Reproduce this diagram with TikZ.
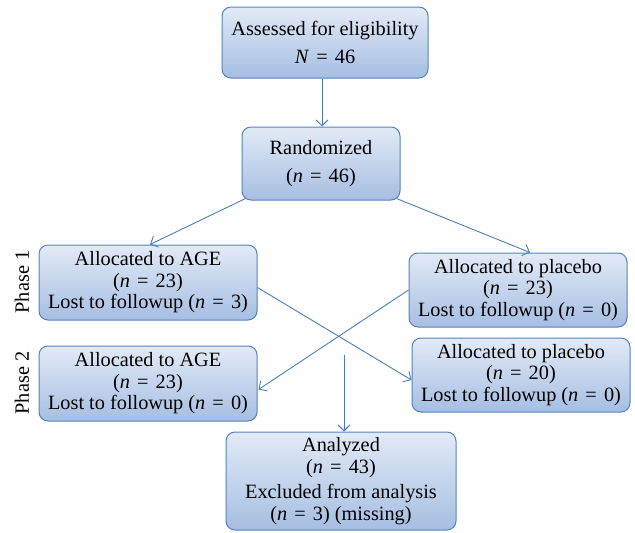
\documentclass[tikz,border=0pt]{standalone}
\usepackage{fontspec}
\setmainfont{Liberation Serif}
\usetikzlibrary{arrows.meta}
\definecolor{boxline}{RGB}{84,130,190}
\definecolor{boxtop}{RGB}{226,234,246}
\definecolor{boxbot}{RGB}{166,190,226}
\definecolor{arrowc}{RGB}{74,126,187}
\newcommand{\eqs}{\hspace{0.35em}=\hspace{0.35em}}
\tikzset{
  box/.style={draw=boxline, line width=1pt, rounded corners=9pt,
    top color=boxtop, bottom color=boxbot, align=center,
    inner sep=0pt, font=\fontsize{20.3}{21.5}\selectfont},
  flow/.style={draw=arrowc, line width=0.9pt, -{Straight Barb[length=6pt,width=12pt]}},
  phase/.style={rotate=90, font=\fontsize{20.3}{21.5}\selectfont}
}
\begin{document}
\begin{tikzpicture}[x=1pt,y=-1pt]
  \useasboundingbox (0,0) rectangle (635,533);
  \node[box, minimum width=206pt, minimum height=71pt] (assess) at (325,42.5)
    {Assessed for eligibility\\[7pt] \textit{N}\eqs 46};
  \node[box, minimum width=158pt, minimum height=73pt] (rand) at (321,163.5)
    {Randomized\\[7pt] (\textit{n}\eqs 46)};
  \node[box, minimum width=218pt, minimum height=75pt] (age1) at (148,282.5)
    {Allocated to AGE\\ (\textit{n}\eqs 23)\\ Lost to followup (\textit{n}\eqs 3)};
  \node[box, minimum width=218pt, minimum height=74pt] (plac1) at (518,290)
    {Allocated to placebo\\ (\textit{n}\eqs 23)\\ Lost to followup (\textit{n}\eqs 0)};
  \node[box, minimum width=218pt, minimum height=75pt] (age2) at (148,383.5)
    {Allocated to AGE\\ (\textit{n}\eqs 23)\\ Lost to followup (\textit{n}\eqs 0)};
  \node[box, minimum width=218pt, minimum height=74pt] (plac2) at (521,375)
    {Allocated to placebo\\ (\textit{n}\eqs 20)\\ Lost to followup (\textit{n}\eqs 0)};
  \node[box, minimum width=230pt, minimum height=98pt] (anal) at (341,481)
    {Analyzed\\ (\textit{n}\eqs 43)\\[4pt] Excluded from analysis\\ (\textit{n}\eqs 3) (missing)};
  \node[phase] (ph1) at (22,282) {Phase 1};
  \node[phase] (ph2) at (22,383) {Phase 2};
  \coordinate (split) at (344,355);
  \draw[flow] ([xshift=-3pt]assess.south) -- ([xshift=1pt]rand.north);
  \draw[flow] ([xshift=4pt,yshift=2pt]rand.south west) -- ([xshift=2pt]age1.north);
  \draw[flow] ([xshift=-4pt,yshift=2pt]rand.south east) -- ([xshift=12pt]plac1.north);
  \draw[flow] ([yshift=-5pt]age1.east) -- ([yshift=-5pt]plac2.west);
  \draw[flow] (plac1.west) -- ([xshift=1pt,yshift=-6pt]age2.east);
  \draw[flow] (split) -- ([xshift=3pt]anal.north);
\end{tikzpicture}
\end{document}
